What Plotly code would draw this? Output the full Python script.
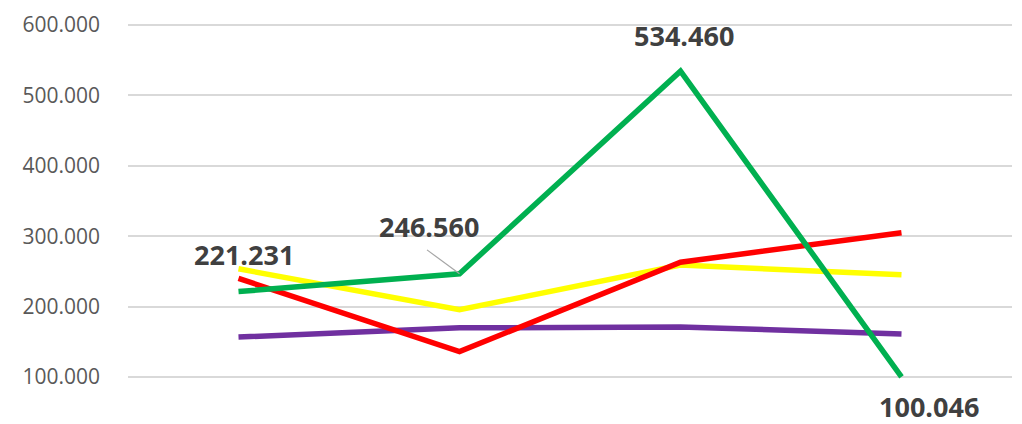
import plotly.graph_objects as go

categories = ["Q1", "Q2", "Q3", "Q4"]

purple_vals = [156600, 169700, 171000, 161000]
yellow_vals = [253600, 195400, 259000, 245000]
red_vals = [240000, 136000, 263000, 305000]
green_vals = [221231, 246560, 534460, 100046]

tick_vals = [100000, 200000, 300000, 400000, 500000, 600000]

series = [
    ("Serie D", purple_vals, "#7030A0"),
    ("Serie C", yellow_vals, "#FFFF00"),
    ("Serie B", red_vals, "#FF0000"),
    ("Serie A", green_vals, "#00B050"),
]


def fmt(v):
    return f"{v:,}".replace(",", ".")


# small padding so the 100.000 and 600.000 gridlines are not dropped at the edges
Y_MIN, Y_MAX, PAD = 100000, 600000, 3000
TOP, BOTTOM = 18.0, 47.5
PX_PER_UNIT = (424 - TOP - BOTTOM) / (Y_MAX - Y_MIN)
pad_px = PAD * PX_PER_UNIT

fig = go.Figure()
for name, vals, color in series:
    fig.add_trace(go.Scatter(
        x=categories, y=vals, name=name, mode="lines",
        line=dict(color=color, width=5.5),
        cliponaxis=False, showlegend=False,
    ))

# value labels on the green series: (point index, x shift, y shift)
label_offsets = [(0, 5, 37), (1, -31, 47), (2, 3, 36), (3, 27, -30)]
label_font = dict(family="Open Sans", size=27, color="#404040")
for idx, dx, dy in label_offsets:
    fig.add_annotation(
        x=categories[idx], y=green_vals[idx], text=f"<b>{fmt(green_vals[idx])}</b>",
        showarrow=False, xshift=dx, yshift=dy, font=label_font,
    )

# leader line for the second label
fig.add_annotation(
    x=categories[1], y=green_vals[1], text=" ", font=dict(size=1),
    showarrow=True, arrowhead=0, arrowwidth=1.2, arrowcolor="#A6A6A6",
    ax=-34, ay=-25, standoff=0,
)

fig.update_layout(
    width=1022, height=424,
    margin=dict(l=128, r=10, t=TOP - pad_px, b=BOTTOM - pad_px),
    paper_bgcolor="white", plot_bgcolor="white",
    separators=",.",
    xaxis=dict(
        range=[-0.5, 3.5], showticklabels=False, showgrid=False,
        zeroline=False, showline=False, ticks="",
    ),
    yaxis=dict(
        range=[Y_MIN - PAD, Y_MAX + PAD], tickvals=tick_vals,
        ticktext=[fmt(v) for v in tick_vals],
        showgrid=True, gridcolor="#D9D9D9", gridwidth=1.6,
        zeroline=False, showline=False, ticks="",
        ticklabelstandoff=27,
        tickfont=dict(family="Open Sans", size=21, color="#595959"),
    ),
)

fig.write_html("out.html")
